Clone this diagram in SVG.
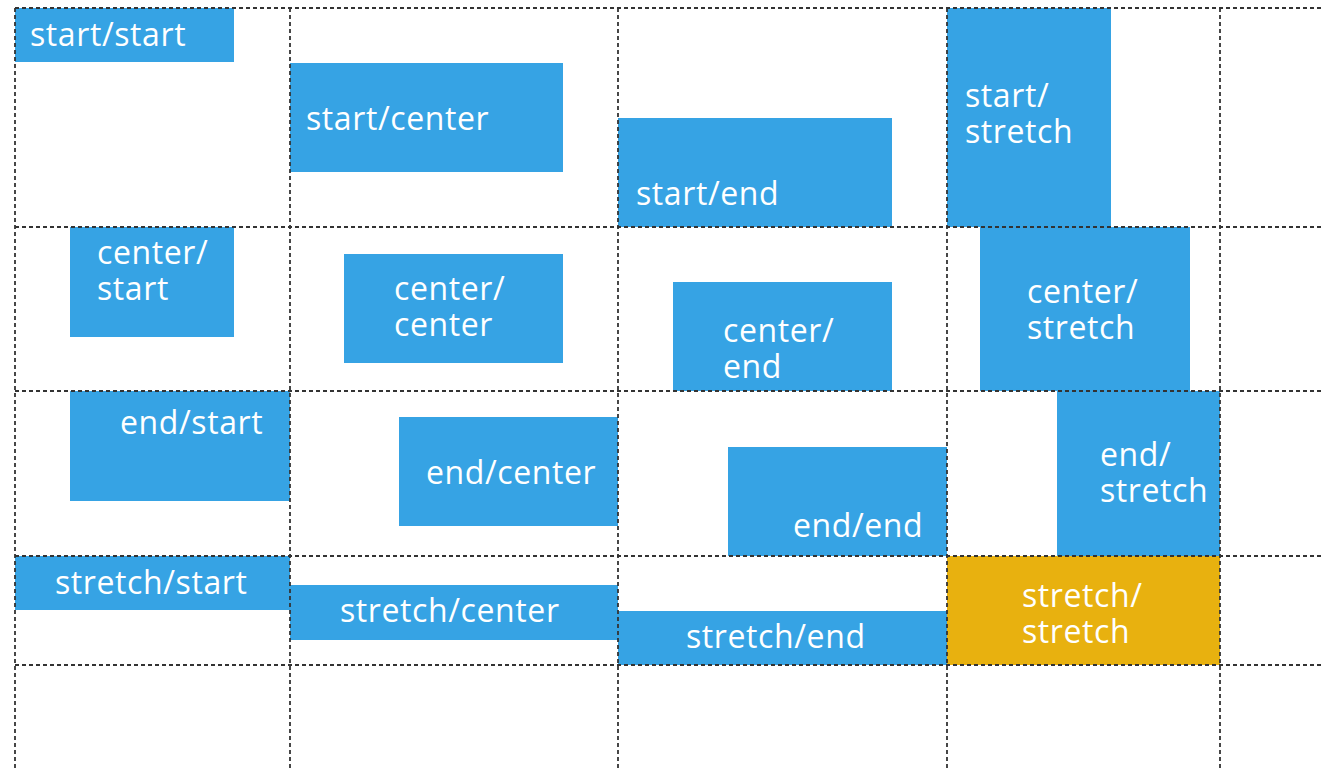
<svg xmlns="http://www.w3.org/2000/svg" width="1324" height="771" viewBox="0 0 1324 771">
<style>
.b{fill:#36a3e4}
.y{fill:#e8b10f}
.t{font-family:"Open Sans","Noto Sans",sans-serif;font-size:32px;letter-spacing:0.6px;fill:#ffffff}
.g{stroke:#333;stroke-width:1.8;stroke-dasharray:4 3;fill:none}
</style>
<rect width="1324" height="771" fill="#ffffff"/>
<g id="start-start"><rect class="b" x="15" y="8" width="219" height="54"/><text class="t" x="30" y="46">start/start</text></g>
<g id="start-center"><rect class="b" x="290" y="63" width="273" height="109"/><text class="t" x="306" y="130">start/center</text></g>
<g id="start-end"><rect class="b" x="618" y="118" width="274" height="109"/><text class="t" x="636" y="205">start/end</text></g>
<g id="start-stretch"><rect class="b" x="947" y="8" width="164" height="219"/><text class="t"><tspan x="965" y="107">start/</tspan><tspan x="965" y="143">stretch</tspan></text></g>
<g id="center-start"><rect class="b" x="70" y="227" width="164" height="110"/><text class="t"><tspan x="97" y="264">center/</tspan><tspan x="97" y="300">start</tspan></text></g>
<g id="center-center"><rect class="b" x="344" y="254" width="219" height="109"/><text class="t"><tspan x="394" y="300">center/</tspan><tspan x="394" y="336">center</tspan></text></g>
<g id="center-end"><rect class="b" x="673" y="282" width="219" height="109"/><text class="t"><tspan x="723" y="342">center/</tspan><tspan x="723" y="378">end</tspan></text></g>
<g id="center-stretch"><rect class="b" x="980" y="227" width="210" height="164"/><text class="t"><tspan x="1027" y="303">center/</tspan><tspan x="1027" y="339">stretch</tspan></text></g>
<g id="end-start"><rect class="b" x="70" y="391" width="220" height="110"/><text class="t" x="120" y="434">end/start</text></g>
<g id="end-center"><rect class="b" x="399" y="417" width="219" height="109"/><text class="t" x="426" y="484">end/center</text></g>
<g id="end-end"><rect class="b" x="728" y="447" width="219" height="109"/><text class="t" x="793" y="537">end/end</text></g>
<g id="end-stretch"><rect class="b" x="1057" y="391" width="163" height="165"/><text class="t"><tspan x="1100" y="466">end/</tspan><tspan x="1100" y="502">stretch</tspan></text></g>
<g id="stretch-start"><rect class="b" x="15" y="556" width="275" height="54"/><text class="t" x="55" y="594">stretch/start</text></g>
<g id="stretch-center"><rect class="b" x="290" y="585" width="328" height="55"/><text class="t" x="340" y="622">stretch/center</text></g>
<g id="stretch-end"><rect class="b" x="618" y="611" width="329" height="54"/><text class="t" x="686" y="648">stretch/end</text></g>
<g id="stretch-stretch"><rect class="y" x="947" y="556" width="273" height="109"/><text class="t"><tspan x="1022" y="607">stretch/</tspan><tspan x="1022" y="643">stretch</tspan></text></g>
<g id="connectors">
<path class="g" d="M15 8H1324M15 227H1324M15 391H1324M15 556H1324M15 665H1324"/>
<path class="g" d="M15 8V771M290 8V771M618 8V771M947 8V771M1220 8V771"/>
</g>
</svg>
